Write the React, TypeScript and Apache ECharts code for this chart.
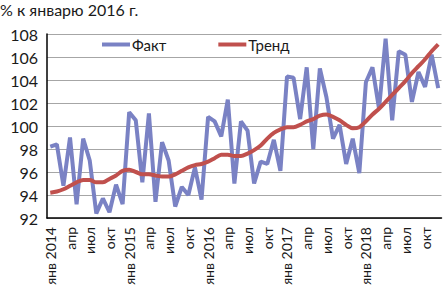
import React, { useEffect, useRef } from "react";
import * as echarts from "echarts";

const monthNames = ["янв", "фев", "мар", "апр", "май", "июн", "июл", "авг", "сен", "окт", "ноя", "дек"];
const years = [2014, 2015, 2016, 2017, 2018];
const categories: string[] = [];
years.forEach((y) => monthNames.forEach((m, i) => categories.push(i === 0 ? `${m} ${y}` : m)));

const factValues = [
  98.2, 98.4, 94.8, 99.0, 93.2, 98.9, 97.0, 92.4, 93.7, 92.5, 94.9, 93.2,
  101.2, 100.5, 95.1, 101.1, 93.4, 98.6, 97.0, 93.0, 94.7, 94.0, 96.4, 93.6,
  100.8, 100.4, 99.1, 102.3, 95.0, 100.4, 99.6, 95.0, 96.9, 96.7, 98.8, 96.1,
  104.3, 104.2, 100.6, 105.1, 98.0, 105.0, 102.5, 98.9, 100.1, 96.7, 98.9, 95.9,
  103.8, 105.1, 101.5, 107.6, 100.5, 106.5, 106.2, 102.1, 104.7, 103.4, 106.2, 103.3,
];

const trendValues = [
  94.2, 94.3, 94.5, 94.8, 95.1, 95.3, 95.3, 95.1, 95.1, 95.4, 95.7, 96.1,
  96.2, 96.0, 95.8, 95.8, 95.7, 95.6, 95.6, 95.8, 96.1, 96.4, 96.6, 96.7,
  96.9, 97.2, 97.5, 97.5, 97.4, 97.4, 97.6, 97.9, 98.3, 98.9, 99.4, 99.7,
  99.9, 99.9, 100.1, 100.4, 100.6, 100.9, 101.0, 100.8, 100.5, 100.1, 99.8, 99.9,
  100.4, 101.0, 101.5, 102.1, 102.7, 103.3, 103.9, 104.6, 105.2, 105.8, 106.5, 107.1,
];

const seriesNames = ["Факт", "Тренд"];
const titleText = "% к январю 2016 г.";
const FONT = "Lato, 'Open Sans', sans-serif";

export default function App() {
  const ref = useRef<HTMLDivElement>(null);
  useEffect(() => {
    if (!ref.current) return;
    const chart = echarts.init(ref.current, undefined, { renderer: "svg" });
    chart.setOption({
      animation: false,
      backgroundColor: "#ffffff",
      textStyle: { fontFamily: FONT },
      title: {
        text: titleText,
        left: 0,
        top: 0,
        padding: [1, 0, 0, 0],
        textStyle: { fontSize: 16, fontWeight: "normal", color: "#1a1a1a", fontFamily: FONT },
      },
      legend: {
        data: seriesNames,
        left: 102,
        top: 37,
        itemWidth: 28,
        itemHeight: 4,
        itemGap: 52,
        icon: "rect",
        padding: 0,
        textStyle: { fontSize: 15, color: "#1a1a1a", fontFamily: FONT, padding: [0, 0, 0, -3] },
      },
      grid: { left: 47, right: 1.5, top: 34, bottom: 70, containLabel: false },
      xAxis: {
        type: "category",
        data: categories,
        boundaryGap: true,
        axisLine: { lineStyle: { color: "#000", width: 1.5 } },
        axisTick: { show: false },
        axisLabel: {
          interval: 2,
          rotate: 90,
          fontSize: 14,
          color: "#1a1a1a",
          fontFamily: FONT,
          margin: 9,
        },
      },
      yAxis: {
        type: "value",
        min: 92,
        max: 108,
        interval: 2,
        axisLine: { show: true, lineStyle: { color: "#000", width: 1.5 } },
        axisTick: { show: false },
        axisLabel: { fontSize: 16, color: "#1a1a1a", fontFamily: FONT, margin: 9 },
        splitLine: { lineStyle: { color: "#a6a6a6", width: 1 } },
      },
      series: [
        {
          name: seriesNames[0],
          type: "line",
          data: factValues,
          symbol: "none",
          lineStyle: { color: "#7a82c4", width: 4 },
          itemStyle: { color: "#7a82c4" },
          z: 2,
        },
        {
          name: seriesNames[1],
          type: "line",
          data: trendValues,
          symbol: "none",
          smooth: 0.3,
          lineStyle: { color: "#c0504d", width: 4 },
          itemStyle: { color: "#c0504d" },
          z: 3,
        },
      ],
    });
    return () => chart.dispose();
  }, []);
  return (
    <div
      ref={ref}
      style={{ position: "fixed", left: 0, top: 0, width: 443, height: 288, background: "#fff" }}
    />
  );
}
